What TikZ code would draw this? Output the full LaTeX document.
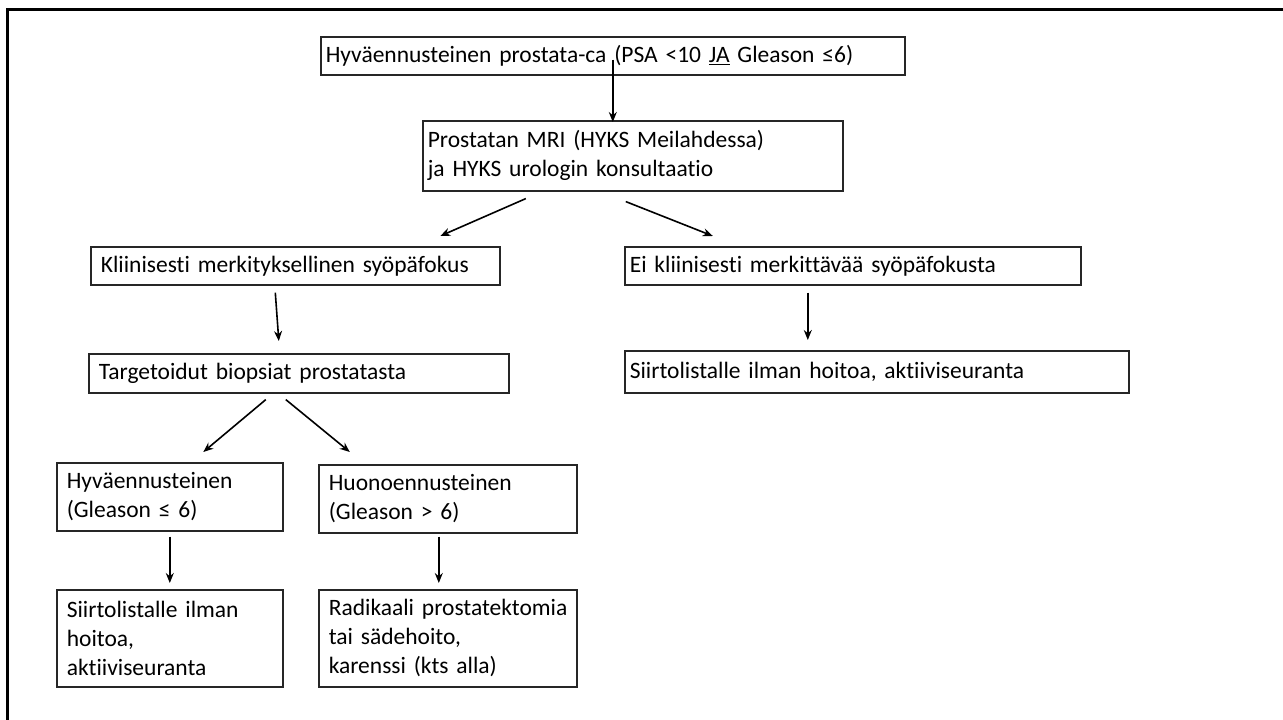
\documentclass[tikz,border=0pt]{standalone}
\usepackage{fontspec}
\setmainfont{Carlito}[Ligatures=NoCommon]
\usetikzlibrary{arrows.meta,calc}
\tikzset{
  box/.style={draw=black!85, line width=1.6pt, rectangle, inner sep=0pt,
    font=\fontsize{23.5}{29}\selectfont, align=left, anchor=north west},
  arr/.style={line width=1.6pt, -{Stealth[length=10pt,width=8pt]}}
}
\begin{document}
\begin{tikzpicture}[x=1pt,y=-1pt]
\useasboundingbox (0,0) rectangle (1283,720);
\draw[line width=3pt] (7,730) -- (7,9) -- (1290,9);
% boxes
\node[box, minimum width=584, minimum height=38, text width=574] (top) at (320,36) {Hyväennusteinen prostata-ca (PSA <10 \underline{JA} Gleason ≤6)};
\node[box, minimum width=420, minimum height=70, text width=410] (mri) at (422,120) {Prostatan MRI (HYKS Meilahdessa)\\ja HYKS urologin konsultaatio};
\node[box, minimum width=409, minimum height=38, text width=389] (klin) at (90,246) {\mbox{Kliinisesti merkityksellinen syöpäfokus}};
\node[box, minimum width=456, minimum height=38, text width=446] (ei) at (624,246) {Ei kliinisesti merkittävää syöpäfokusta};
\node[box, minimum width=420, minimum height=39, text width=400] (targ) at (88,353) {Targetoidut biopsiat prostatasta};
\node[box, minimum width=504, minimum height=42, text width=494] (siirtoR) at (624,350) {Siirtolistalle ilman hoitoa, aktiiviseuranta};
\node[box, minimum width=226, minimum height=68, text width=206] (hyva) at (56,462) {Hyväennusteinen\\(Gleason ≤ 6)};
\node[box, minimum width=258, minimum height=68, text width=238] (huono) at (318,464) {Huonoennusteinen\\(Gleason > 6)};
\node[box, minimum width=226, minimum height=97, text width=206] (siirtoL) at (56,589) {Siirtolistalle ilman\\hoitoa,\\aktiiviseuranta};
\node[box, minimum width=258, minimum height=97, text width=238] (rad) at (318,589) {\mbox{Radikaali prostatektomia}\\tai sädehoito,\\karenssi (kts alla)};
% connectors
\draw[arr] ([yshift=16]top.south) -- ([yshift=-2]mri.north -| top.south);
\draw[arr] ([shift={(-107,7)}]mri.south) -- ([shift={(145,-10)}]klin.north);
\draw[arr] ([shift={(-7,10)}]mri.south) -- ([shift={(-140,-10)}]ei.north);
\draw[arr] ([shift={(-20,7)}]klin.south) -- ([shift={(-20,-12)}]targ.north);
\draw[arr] ([shift={(-45,7)}]ei.south) -- ([shift={(-69,-10)}]siirtoR.north);
\draw[arr] ([shift={(-33,6)}]targ.south) -- ([shift={(33.5,-10)}]hyva.north);
\draw[arr] ([shift={(-13,6)}]targ.south) -- ([shift={(-98,-12)}]huono.north);
\draw[arr] ([shift={(0,5)}]hyva.south) -- ([shift={(0,-6)}]siirtoL.north);
\draw[arr] ([shift={(-9,3)}]huono.south) -- ([shift={(-9,-6)}]rad.north);
\end{tikzpicture}
\end{document}
